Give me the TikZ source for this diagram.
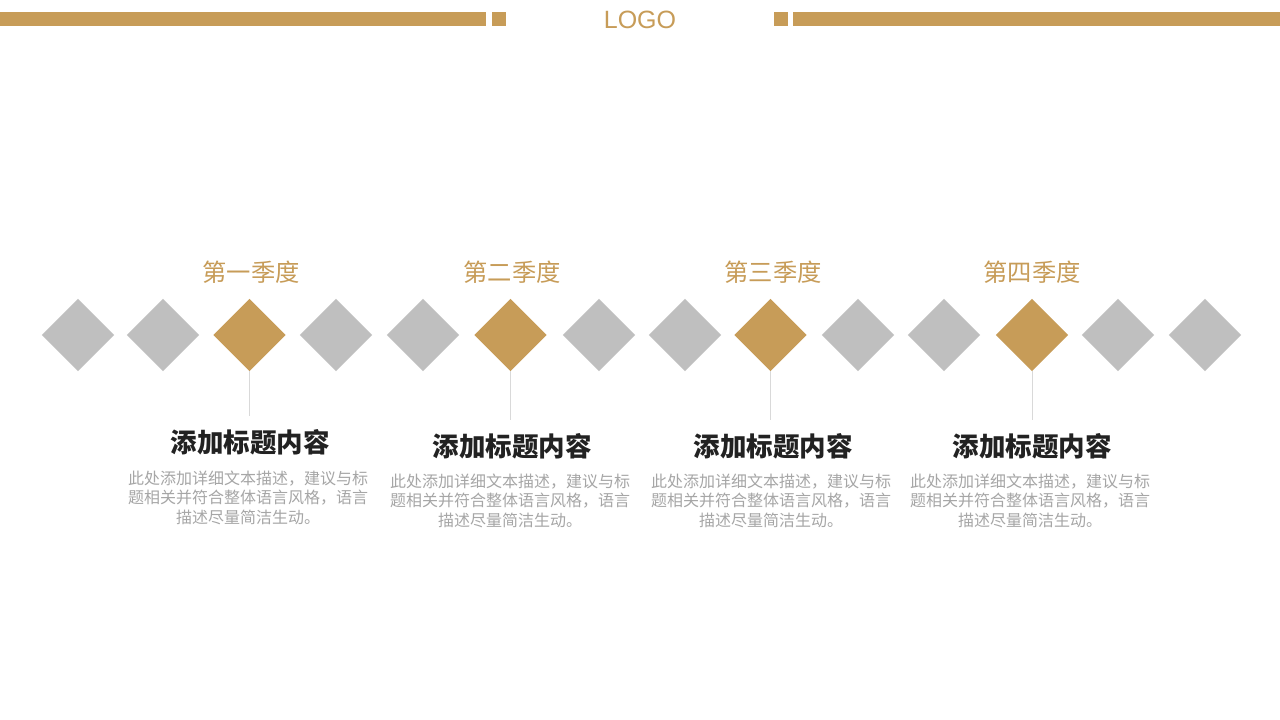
\documentclass[tikz,border=0pt]{standalone}
\usepackage{fontspec}
\setmainfont{Liberation Sans}
\newfontfamily\cjk{Noto Sans CJK SC}
\definecolor{gold}{HTML}{C79C58}
\definecolor{dgray}{HTML}{BFBFBF}
\definecolor{ttl}{HTML}{222222}
\definecolor{desc}{HTML}{A6A6A6}
\definecolor{vline}{HTML}{D9D9D9}
\tikzset{
  gbox/.style={fill=dgray,draw=none,minimum size=51pt,inner sep=0pt,rotate=45},
  ybox/.style={gbox,fill=gold},
  quarter/.style={font=\cjk\fontsize{24.3}{28}\selectfont,text=gold,inner sep=0pt},
  ttlnode/.style={font=\cjk\bfseries\fontsize{26.5}{31}\selectfont,text=ttl,inner sep=0pt},
  descnode/.style={font=\cjk\fontsize{16}{19.6}\selectfont,text=desc,align=center,inner sep=0pt},
  conn/.style={draw=vline,line width=0.8pt}
}
\begin{document}
\begin{tikzpicture}[x=1pt,y=-1pt]
\useasboundingbox[fill=white] (0,0) rectangle (1280,720);
% header
\fill[gold] (0,12) rectangle (486,26);
\fill[gold] (492,12) rectangle (506,26);
\fill[gold] (774,12) rectangle (788,26);
\fill[gold] (793,12) rectangle (1280,26);
\node[font=\fontsize{25}{30}\selectfont,text=gold,inner sep=0pt] (logo) at (640,20) {LOGO};
% diamonds
\foreach \xx [count=\i from 0] in {78,163,249.5,336,423,510.5,599,685,770.5,858,944,1032,1118,1205}{
  \pgfmathtruncatemacro{\m}{mod(\i,3)}
  \ifnum\m=2
    \node[ybox] (d\i) at (\xx,335) {};
  \else
    \node[gbox] (d\i) at (\xx,335) {};
  \fi
}
% quarters
\node[quarter] (q1) at (251,272) {第一季度};
\node[quarter] (q2) at (512,272) {第二季度};
\node[quarter] (q3) at (773,272) {第三季度};
\node[quarter] (q4) at (1032,272) {第四季度};
% connectors ends
\coordinate (e1) at (d2.south west |- 0,416);
\coordinate (e2) at (d5.south west |- 0,420);
\coordinate (e3) at (d8.south west |- 0,420);
\coordinate (e4) at (d11.south west |- 0,420);
\draw[conn] (d2.south west) -- (e1);
\draw[conn] (d5.south west) -- (e2);
\draw[conn] (d8.south west) -- (e3);
\draw[conn] (d11.south west) -- (e4);
% titles
\node[ttlnode] (t1) at (250,442) {添加标题内容};
\node[ttlnode] (t2) at (512,446) {添加标题内容};
\node[ttlnode] (t3) at (773,446) {添加标题内容};
\node[ttlnode] (t4) at (1032,446) {添加标题内容};
% descriptions
\node[descnode,anchor=north] (s1) at (248,470.5) {此处添加详细文本描述，建议与标\\题相关并符合整体语言风格，语言\\描述尽量简洁生动。};
\node[descnode,anchor=north] (s2) at (510,473.5) {此处添加详细文本描述，建议与标\\题相关并符合整体语言风格，语言\\描述尽量简洁生动。};
\node[descnode,anchor=north] (s3) at (771,473.5) {此处添加详细文本描述，建议与标\\题相关并符合整体语言风格，语言\\描述尽量简洁生动。};
\node[descnode,anchor=north] (s4) at (1030,473.5) {此处添加详细文本描述，建议与标\\题相关并符合整体语言风格，语言\\描述尽量简洁生动。};
\end{tikzpicture}
\end{document}
